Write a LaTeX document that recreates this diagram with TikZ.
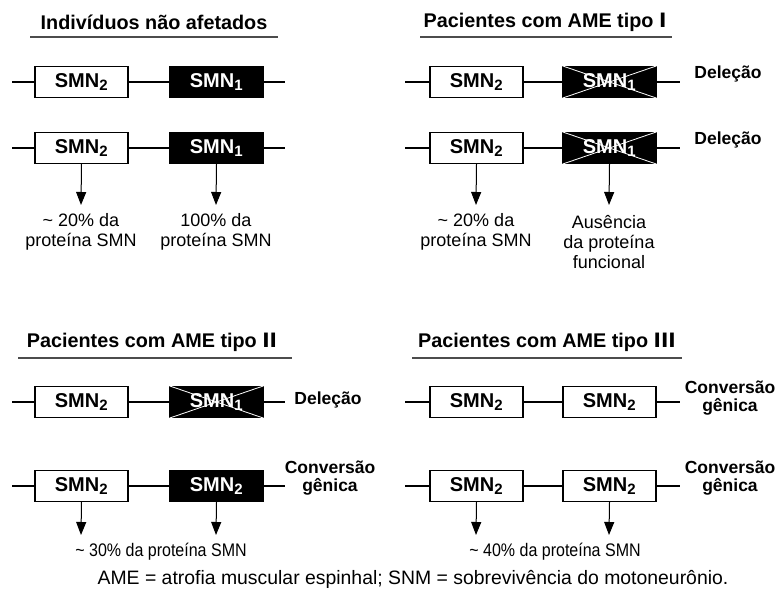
\documentclass[tikz,border=0pt]{standalone}
\usepackage{fontspec}
\setmainfont{Liberation Sans}
\newfontfamily\romfont{DejaVu Sans}
\newfontfamily\narrowfont[FakeStretch=0.88]{Liberation Sans}
\usetikzlibrary{arrows.meta}
\tikzset{
  gene/.style={draw=black, line width=1.3pt, minimum width=93pt, minimum height=31pt, inner sep=0pt, font=\fontsize{20}{20}\selectfont\bfseries},
  whitegene/.style={gene, fill=white, text=black},
  blackgene/.style={gene, fill=black, text=white},
  chrom/.style={line width=2.5pt},
  cross/.style={draw=white, line width=0.8pt},
  ttl/.style={font=\fontsize{19.8}{20}\selectfont\bfseries, anchor=center},
  uline/.style={line width=1.1pt, draw=black!70},
  arr/.style={line width=1pt, -{Triangle[width=10pt,length=13pt]}},
  lbl/.style={font=\fontsize{18}{20}\selectfont, align=center},
  lblb/.style={font=\narrowfont\fontsize{18.2}{20}\selectfont, align=center},
  foot/.style={font=\narrowfont\fontsize{19.6}{20}\selectfont, xscale=1},
  side/.style={font=\fontsize{17.5}{18.5}\selectfont\bfseries, align=center},
}
\newcommand{\smnsub}[1]{SMN\textsubscript{\fontsize{15}{15}\selectfont #1}}
\begin{document}
\begin{tikzpicture}[x=1pt,y=-1pt]
\useasboundingbox (0,0) rectangle (777,604);
% ---------- Top left ----------
\node[ttl] (t1) at (154,22) {Indivíduos não afetados};
\draw[uline] (30,37) -- (278,37);
\coordinate (a1l) at (12,82); \coordinate (a1r) at (285,82);
\draw[chrom] (a1l) -- (a1r);
\node[whitegene] (a1) at (81.5,82) {\smnsub{2}};
\node[blackgene] (a2) at (216.5,82) {\smnsub{1}};
\coordinate (a2l) at (12,148); \coordinate (a2r) at (285,148);
\draw[chrom] (a2l) -- (a2r);
\node[whitegene] (a3) at (81.5,148) {\smnsub{2}};
\node[blackgene] (a4) at (216.5,148) {\smnsub{1}};
\node[lbl] (a5) at (81,232) {\~{} 20\% da\\proteína SMN};
\node[lbl] (a6) at (216,232) {100\% da\\proteína SMN};
\draw[arr] (a3.south) -- (81,205);
\draw[arr] (a4.south) -- (216,205);
% ---------- Top right ----------
\node[ttl] (t2) at (545,22) {Pacientes com AME tipo {\romfont I}};
\draw[uline] (420,37) -- (672,37);
\coordinate (b1l) at (405,82); \coordinate (b1r) at (680,82);
\draw[chrom] (b1l) -- (b1r);
\node[whitegene] (b1) at (476.5,82) {\smnsub{2}};
\node[blackgene] (b2) at (609.5,82) {\smnsub{1}};
\draw[cross] (b2.north west) -- (b2.south east) (b2.south west) -- (b2.north east);
\node[side] (b7) at (728,74) {Deleção};
\coordinate (b2l) at (405,148); \coordinate (b2r) at (680,148);
\draw[chrom] (b2l) -- (b2r);
\node[whitegene] (b3) at (476.5,148) {\smnsub{2}};
\node[blackgene] (b4) at (609.5,148) {\smnsub{1}};
\draw[cross] (b4.north west) -- (b4.south east) (b4.south west) -- (b4.north east);
\node[side] (b8) at (728,140) {Deleção};
\node[lbl] (b5) at (476,232) {\~{} 20\% da\\proteína SMN};
\node[lbl] (b6) at (609,242) {Ausência\\da proteína\\funcional};
\draw[arr] (b3.south) -- (476,205);
\draw[arr] (b4.south) -- (609,205);
% ---------- Bottom left ----------
\node[ttl] (t3) at (152,342) {Pacientes com AME tipo {\romfont II}};
\draw[uline] (18,358) -- (292,358);
\coordinate (c1l) at (12,402); \coordinate (c1r) at (285,402);
\draw[chrom] (c1l) -- (c1r);
\node[whitegene] (c1) at (81.5,402) {\smnsub{2}};
\node[blackgene] (c2) at (216.5,402) {\smnsub{1}};
\draw[cross] (c2.north west) -- (c2.south east) (c2.south west) -- (c2.north east);
\node[side] (c7) at (328,400) {Deleção};
\coordinate (c2l) at (12,486); \coordinate (c2r) at (285,486);
\draw[chrom] (c2l) -- (c2r);
\node[whitegene] (c3) at (81.5,486) {\smnsub{2}};
\node[blackgene] (c4) at (216.5,486) {\smnsub{2}};
\node[side] (c8) at (330,478) {Conversão\\gênica};
\draw[arr] (c3.south) -- (81,535);
\draw[arr] (c4.south) -- (216,535);
\node[lblb] (c5) at (161,552) {\~{} 30\% da proteína SMN};
% ---------- Bottom right ----------
\node[ttl] (t4) at (547,342) {Pacientes com AME tipo {\romfont III}};
\draw[uline] (412,358) -- (682,358);
\coordinate (d1l) at (405,402); \coordinate (d1r) at (680,402);
\draw[chrom] (d1l) -- (d1r);
\node[whitegene] (d1) at (476.5,402) {\smnsub{2}};
\node[whitegene] (d2) at (609.5,402) {\smnsub{2}};
\node[side] (d7) at (730,398) {Conversão\\gênica};
\coordinate (d2l) at (405,486); \coordinate (d2r) at (680,486);
\draw[chrom] (d2l) -- (d2r);
\node[whitegene] (d3) at (476.5,486) {\smnsub{2}};
\node[whitegene] (d4) at (609.5,486) {\smnsub{2}};
\node[side] (d8) at (730,478) {Conversão\\gênica};
\draw[arr] (d3.south) -- (476,535);
\draw[arr] (d4.south) -- (609,535);
\node[lblb] (d5) at (555,552) {\~{} 40\% da proteína SMN};
% ---------- Footnote ----------
\node[font=\fontsize{19.4}{20}\selectfont] (fn) at (413,579) {AME = atrofia muscular espinhal; SNM = sobrevivência do motoneurônio.};
\end{tikzpicture}
\end{document}
